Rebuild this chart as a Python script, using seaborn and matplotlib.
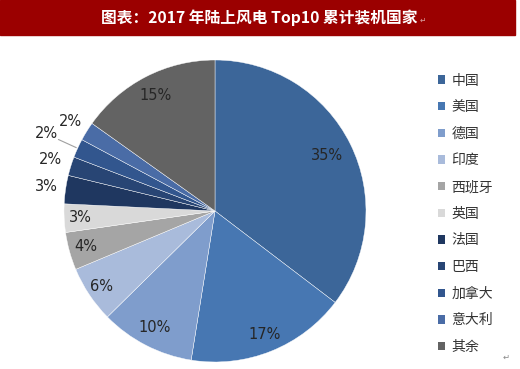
import numpy as np
import matplotlib.pyplot as plt
import seaborn as sns
from matplotlib.patches import Patch, Rectangle

# data
countries = ['中国', '美国', '德国', '印度', '西班牙', '英国', '法国', '巴西', '加拿大', '意大利', '其余']
shares = [35, 17, 10, 6, 4, 3, 3, 2, 2, 2, 15]
title = '图表：2017 年陆上风电 Top10 累计装机国家'

colors = ['#3C6699', '#4777B2', '#7F9DCC', '#A9BBDB', '#A5A5A5', '#D9D9D9',
          '#1F3760', '#284574', '#32568E', '#4A6CA6', '#636363']
# radial position of each percent label (pie radius = 1)
label_r = [0.83, 0.88, 0.87, 0.90, 0.89, 0.89, 1.13, 1.14, 1.23, 1.13, 0.86]

sns.set_style("white")
plt.rcParams['font.family'] = ['Noto Sans CJK SC', 'DejaVu Sans']

fig = plt.figure(figsize=(5.2, 3.69), dpi=100)

# title bar
fig.patches.append(Rectangle((0, 1 - 35 / 369), 515 / 520, 35 / 369,
                             transform=fig.transFigure, color='#9B0000', zorder=0))
fig.text(259 / 520, 1 - 18 / 369, title, color='white', fontsize=11.3,
         fontweight='bold', ha='center', va='center')
fig.text(420 / 520, 1 - 21 / 369, '↵', color='#D9A0A0', fontsize=5.5,
         ha='left', va='center')
fig.text(503 / 520, 1 - 357 / 369, '↵', color='#888888', fontsize=6,
         ha='left', va='center')

ax = fig.add_axes([64 / 520, 7 / 369, 302 / 520, 302 / 369])
wedges, _ = ax.pie(shares, colors=colors, startangle=90, counterclock=False,
                   radius=1, wedgeprops=dict(edgecolor='white', linewidth=0.3))
ax.set_xlim(-1, 1)
ax.set_ylim(-1, 1)
ax.set_aspect('equal')
ax.axis('off')

for w, val, r in zip(wedges, shares, label_r):
    ang = np.deg2rad((w.theta1 + w.theta2) / 2)
    x, y = r * np.cos(ang), r * np.sin(ang)
    ax.text(x, y, f'{val}%', ha='center', va='center', fontsize=10.5,
            color='#262626', family=['DejaVu Sans'])

# leader line for the 加拿大 label
w = wedges[8]
ang = np.deg2rad((w.theta1 + w.theta2) / 2)
ax.plot([1.01 * np.cos(ang), 1.14 * np.cos(ang)],
        [1.01 * np.sin(ang), 1.14 * np.sin(ang)],
        color='#A0A0A0', lw=0.8, clip_on=False)

handles = [Patch(facecolor=c, edgecolor='none') for c in colors]
leg = fig.legend(handles, countries, loc='upper left',
                 bbox_to_anchor=(432 / 520, 1 - 68 / 369), frameon=False,
                 fontsize=10, handlelength=0.55, handleheight=0.55,
                 handletextpad=0.45, labelspacing=0.91, borderaxespad=0)
for t in leg.get_texts():
    t.set_color('#333333')

plt.savefig('out.png', dpi=100)
